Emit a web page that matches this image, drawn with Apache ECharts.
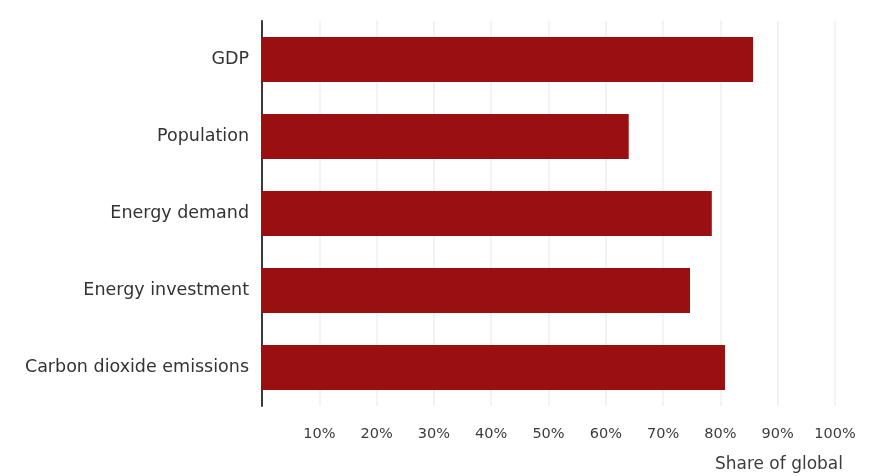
<!DOCTYPE html>
<html>
<head>
<meta charset="utf-8">
<script src="https://cdn.jsdelivr.net/npm/echarts@6/dist/echarts.min.js"></script>
<style>
  html, body { margin: 0; padding: 0; background: #ffffff; }
  #chart { width: 882px; height: 476px; }
</style>
</head>
<body>
<div id="chart"></div>
<script>
// Categories listed top to bottom
const categories = ['GDP', 'Population', 'Energy demand', 'Energy investment', 'Carbon dioxide emissions'];
// Share of global total, percent
const shareValues = [85.7, 64.0, 78.5, 74.7, 80.8];
// Tick values shown on the x axis
const tickValues = [10, 20, 30, 40, 50, 60, 70, 80, 90, 100];
const axisTitle = 'Share of global';

const chart = echarts.init(document.getElementById('chart'));
const fontFamily = '"DejaVu Sans", "Liberation Sans", sans-serif';

chart.setOption({
  animation: false,
  backgroundColor: '#ffffff',
  grid: { left: 262, right: 47, top: 21, bottom: 70, containLabel: false },
  title: {
    text: axisTitle,
    right: 34,
    top: 451,
    textStyle: { fontFamily, fontSize: 17, fontWeight: 'normal', color: '#3c3c3c' }
  },
  xAxis: {
    type: 'value',
    min: 0,
    max: 100,
    interval: 10,
    axisLine: { show: false },
    axisTick: { show: false },
    splitLine: { show: true, lineStyle: { color: '#f3f3f3', width: 2 } },
    axisLabel: {
      margin: 21,
      color: '#3c3c3c',
      fontFamily,
      fontSize: 14.5,
      formatter: v => (tickValues.includes(v) ? v + '%' : '')
    }
  },
  yAxis: {
    type: 'category',
    data: categories,
    inverse: true,
    axisLine: { show: true, lineStyle: { color: '#3a3a3a', width: 2 } },
    axisTick: { show: false },
    splitLine: { show: false },
    axisLabel: {
      margin: 13,
      color: '#333333',
      fontFamily,
      fontSize: 17.5
    }
  },
  series: [{
    type: 'bar',
    data: shareValues,
    barWidth: 45,
    itemStyle: { color: '#9a1010' },
    label: { show: false }
  }]
});
</script>
</body>
</html>
